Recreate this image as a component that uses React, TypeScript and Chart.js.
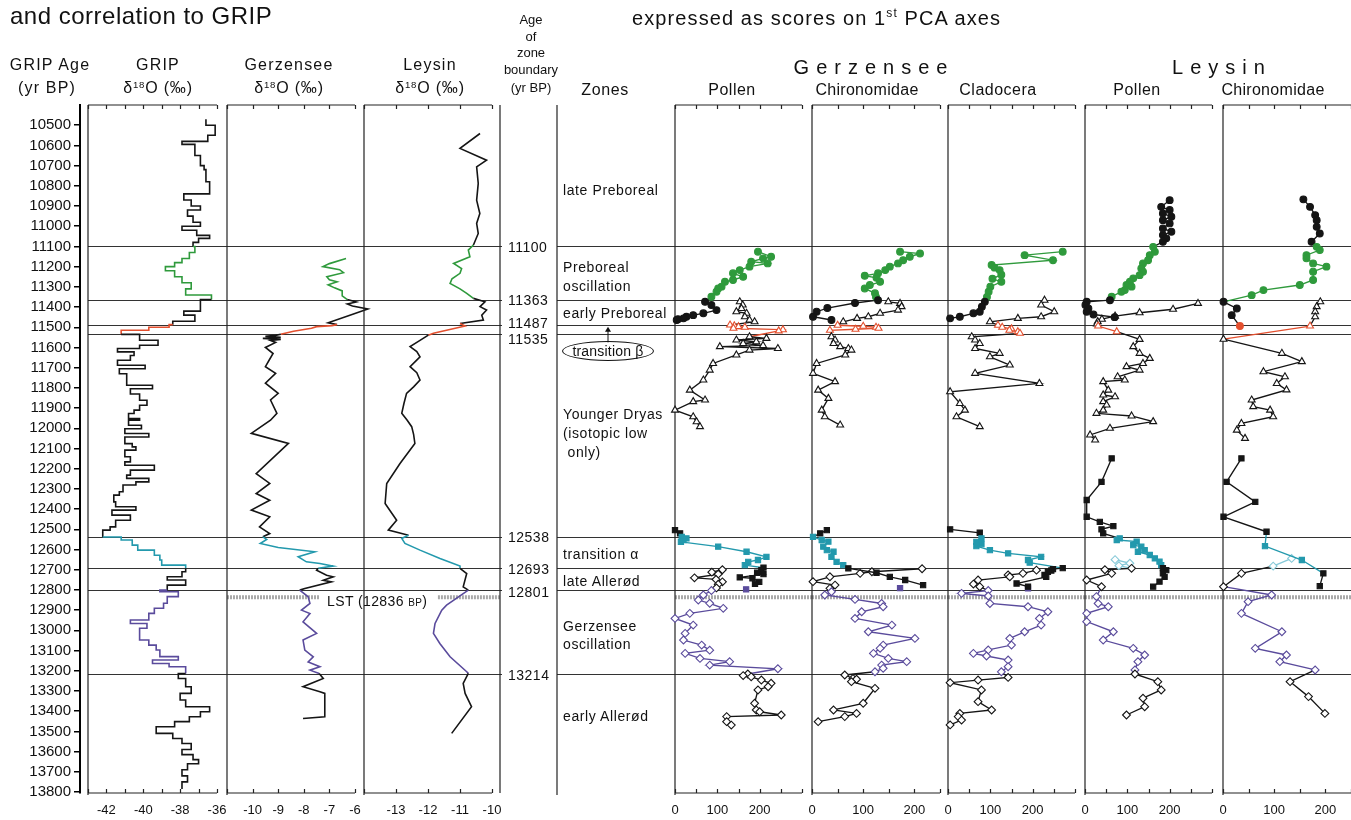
import React, { useEffect, useRef } from "react";
import { Chart, registerables } from "chart.js";
Chart.register(...registerables);

const FONT = '"Liberation Sans", Arial, Helvetica, sans-serif';
const BLACK = "#151515";
const GREEN = "#2f9a3c";
const RED = "#e4502f";
const TEAL = "#2399ad";
const LIGHTTEAL = "#86c9d8";
const PURPLE = "#5a4b9c";
const LINE = "#333333";
const LST_GRAY = "#a9a9a9";

// ---------------- data ----------------
type Pair = [number, number]; // [age (yr BP), value]

const AGE_MIN = 10400;
const AGE_MAX = 13805;
const gripAgeTicks = [
  10500, 10600, 10700, 10800, 10900, 11000, 11100, 11200, 11300, 11400, 11500, 11600, 11700, 11800, 11900, 12000,
  12100, 12200, 12300, 12400, 12500, 12600, 12700, 12800, 12900, 13000, 13100, 13200, 13300, 13400, 13500, 13600,
  13700, 13800,
];
const ZONE_BOUNDARIES = [11100, 11363, 11487, 11535, 12538, 12693, 12801, 13214];
const LST_AGE = 12836;
const boundaryLabels = ["11100", "11363", "11487", "11535", "12538", "12693", "12801", "13214"];

// GRIP δ18O, stepped: [end age of sample, value]
const gripRecord: Pair[] = [
  [10470, -36.6], [10500, -36.6], [10550, -36.1], [10580, -36.5], [10595, -37.9], [10650, -37.2], [10700, -36.9],
  [10720, -36.7], [10780, -36.6], [10840, -36.4], [10870, -37.8], [10900, -37.4], [10920, -36.9], [10950, -37.6],
  [10980, -37.3], [11000, -36.9], [11020, -37.9], [11045, -37.1], [11060, -36.4], [11080, -37.0], [11100, -37.3],
  [11130, -37.2], [11160, -37.5], [11180, -37.9], [11200, -38.3], [11220, -38.8], [11250, -38.3], [11280, -37.9],
  [11310, -37.4], [11340, -37.7], [11363, -36.3],
  [11420, -36.9], [11440, -37.8], [11470, -37.2], [11487, -38.4],
  [11500, -38.6], [11515, -39.7], [11535, -41.2],
  [11564, -40.2], [11589, -39.2], [11605, -40.2], [11622, -41.4], [11640, -40.5], [11663, -40.7], [11688, -41.4],
  [11705, -39.9], [11730, -41.3], [11787, -40.9], [11804, -39.5], [11830, -40.7], [11861, -40.2], [11886, -39.8],
  [11910, -40.2], [11927, -40.5], [11952, -40.8], [11960, -40.2], [11985, -40.8], [12002, -40.1], [12026, -41.0],
  [12043, -39.7], [12076, -41.0], [12092, -40.6], [12108, -40.4], [12141, -41.0], [12166, -40.7], [12183, -41.0],
  [12207, -39.4], [12232, -40.7], [12248, -40.9], [12265, -39.7], [12281, -40.4], [12314, -41.1], [12331, -41.3],
  [12364, -41.6], [12388, -41.5], [12405, -40.4], [12430, -41.7], [12455, -40.7], [12488, -41.5], [12504, -41.8],
  [12538, -42.2],
  [12553, -41.2], [12578, -40.6], [12603, -40.3], [12628, -39.4], [12652, -39.1], [12677, -39.0], [12693, -37.7],
  [12710, -37.7], [12735, -37.9], [12751, -38.7], [12776, -37.7], [12801, -38.7],
  [12809, -39.1], [12833, -38.1], [12866, -38.7], [12891, -38.9], [12916, -39.4], [12949, -39.7], [12966, -40.7],
  [12990, -39.8], [13048, -40.2], [13073, -39.7], [13097, -39.3], [13130, -39.1], [13147, -38.1], [13164, -39.5],
  [13180, -38.6], [13214, -37.7],
  [13238, -38.1], [13279, -37.7], [13312, -37.4], [13345, -38.0], [13378, -37.7], [13403, -36.4], [13428, -36.9],
  [13452, -37.5], [13477, -38.3], [13510, -39.3], [13535, -38.4], [13560, -37.9], [13590, -37.4], [13615, -37.9],
  [13640, -37.3], [13660, -37.0], [13690, -37.6], [13720, -37.9], [13750, -37.6], [13785, -37.9],
];

// Gerzensee δ18O
const gerzIso: Pair[] = [
  [11160, -6.35], [11185, -7.0], [11200, -7.25], [11215, -6.6], [11230, -6.45], [11250, -7.1], [11265, -7.0],
  [11275, -6.7], [11290, -7.05], [11305, -6.8], [11320, -6.5], [11345, -6.5], [11363, -6.3],
  [11375, -5.95], [11385, -6.3], [11395, -6.1], [11410, -5.5], [11440, -6.2], [11478, -7.05], [11487, -6.7],
  [11492, -6.9], [11497, -7.5], [11505, -7.7], [11520, -8.4], [11535, -8.9],
  [11540, -9.1], [11545, -9.5], [11550, -8.9], [11555, -9.6], [11560, -8.9], [11565, -9.3], [11575, -9.1],
  [11600, -9.5], [11630, -9.2], [11662, -9.35], [11695, -9.5], [11728, -9.1], [11777, -9.5], [11827, -9.0],
  [11860, -9.3], [11926, -9.05], [11960, -9.3], [12025, -10.05], [12075, -8.6], [12224, -9.86], [12273, -9.33],
  [12323, -9.86], [12356, -9.33], [12405, -10.05], [12438, -9.33], [12488, -9.73], [12521, -9.33], [12537, -9.6],
  [12550, -9.45], [12570, -9.7], [12590, -9.0], [12611, -7.57], [12636, -8.22], [12661, -7.9], [12669, -7.37],
  [12682, -6.85], [12693, -7.44],
  [12702, -7.5], [12727, -7.11], [12735, -6.85], [12752, -7.24], [12760, -6.92], [12793, -7.96], [12801, -8.16],
  [12834, -7.83], [12867, -7.76], [12900, -8.09], [12917, -7.76], [12958, -8.03], [13015, -7.5], [13048, -8.03],
  [13098, -7.96], [13131, -7.63], [13156, -7.83], [13180, -7.37], [13197, -7.76], [13214, -7.4],
  [13238, -7.24], [13279, -8.03], [13304, -7.37], [13312, -7.18], [13428, -7.18], [13436, -8.03],
];

// Leysin δ18O
const leysIso: Pair[] = [
  [10541, -10.375], [10615, -11.0], [10673, -10.17], [10706, -10.48], [10788, -10.43], [10871, -10.48],
  [10937, -10.38], [10986, -10.48], [11036, -10.43], [11093, -10.58],
  [11118, -10.74], [11151, -10.69], [11184, -11.2], [11210, -10.95], [11233, -11.0], [11260, -11.25],
  [11283, -11.31], [11310, -11.0], [11332, -10.79], [11357, -10.58],
  [11374, -10.22], [11398, -10.375], [11415, -10.17], [11440, -10.32], [11464, -10.27], [11481, -11.0],
  [11494, -10.84], [11530, -11.83],
  [11539, -11.99], [11570, -12.3], [11596, -12.56], [11620, -12.35], [11646, -12.25], [11670, -12.4],
  [11695, -12.56], [11725, -12.35], [11761, -12.25], [11795, -12.45], [11827, -12.67], [11876, -12.75],
  [11926, -12.82], [11960, -12.65], [11992, -12.51], [12030, -12.45], [12075, -12.41], [12174, -12.875],
  [12273, -13.29], [12372, -13.34], [12455, -12.98], [12504, -13.24], [12529, -12.61],
  [12545, -12.82], [12570, -12.72], [12603, -12.25], [12644, -11.625], [12682, -11.0],
  [12693, -11.0], [12719, -10.79], [12785, -10.9], [12801, -10.74],
  [12875, -11.42], [12900, -11.57], [12966, -11.78], [13015, -11.83], [13065, -11.63], [13131, -11.31],
  [13205, -10.79],
  [13213, -10.74], [13263, -10.9], [13312, -10.84], [13378, -10.64], [13510, -11.26],
];

// PCA axis-1 scores: Gerzensee pollen
const gzPollenCircles: Pair[] = [
  [11126, 196], [11151, 227], [11159, 208], [11176, 180], [11184, 219], [11200, 176], [11217, 153], [11233, 137],
  [11250, 161], [11266, 137], [11275, 118], [11299, 110], [11308, 102], [11324, 98], [11349, 86],
  [11374, 71], [11390, 86], [11415, 98], [11431, 67], [11440, 43], [11448, 27], [11456, 20], [11460, 7], [11464, 4],
];
const gzPollenTriangles: Pair[] = [
  [11374, 153], [11390, 160], [11407, 157], [11423, 145], [11431, 169], [11448, 165], [11464, 176], [11473, 188],
  [11489, 130], [11493, 140], [11497, 150], [11500, 165], [11505, 138], [11512, 255], [11518, 245],
  [11547, 176], [11555, 216], [11563, 145], [11572, 192], [11580, 161], [11590, 208], [11596, 106], [11605, 243],
  [11613, 176], [11637, 145], [11679, 90], [11712, 82], [11761, 67], [11811, 35], [11860, 71], [11868, 43],
  [11910, 0], [11943, 43], [11968, 51], [11992, 59],
];
const gzPollenSquares: Pair[] = [
  [12504, 0], [12520, 12], [12537, 16], [12545, 27], [12553, 20], [12562, 14], [12586, 102], [12611, 169],
  [12636, 216], [12652, 196], [12661, 173], [12677, 165],
  [12690, 209], [12702, 204], [12715, 194], [12722, 209], [12738, 153], [12742, 183], [12760, 199], [12770, 189],
];
const gzPollenPurpleSq: Pair[] = [[12797, 168]];
const gzPollenDiamonds: Pair[] = [
  [12700, 112], [12712, 87], [12722, 102], [12740, 46], [12748, 97], [12760, 112], [12772, 102], [12790, 98],
  [12803, 86], [12825, 67], [12850, 55], [12866, 82], [12891, 114], [12916, 35], [12941, 0], [12974, 43],
  [13015, 24], [13048, 20], [13073, 63], [13098, 82], [13114, 24], [13139, 59], [13155, 129], [13172, 82],
  [13190, 243],
  [13216, 172], [13224, 161], [13230, 180], [13246, 204], [13262, 227], [13279, 220], [13295, 196], [13361, 188],
  [13394, 192], [13403, 200], [13419, 251], [13427, 122], [13452, 122], [13469, 133],
];

// Gerzensee chironomids
const gzChiroCircles: Pair[] = [
  [11126, 172], [11135, 211], [11151, 191], [11168, 178], [11184, 168], [11200, 152], [11217, 143], [11233, 129],
  [11245, 103], [11255, 126], [11275, 133], [11291, 113], [11308, 103], [11332, 123], [11350, 125],
  [11366, 129], [11380, 84], [11405, 30], [11423, 9], [11448, 2], [11464, 38],
];
const gzChiroTriangles: Pair[] = [
  [11374, 149], [11382, 172], [11398, 175], [11415, 168], [11431, 133], [11448, 110], [11456, 88], [11473, 61],
  [11490, 50], [11495, 100], [11500, 125], [11505, 130], [11510, 85], [11515, 35],
  [11547, 38], [11563, 45], [11580, 42], [11596, 55], [11605, 71], [11613, 77], [11637, 65], [11679, 9],
  [11728, 2], [11769, 45], [11811, 12], [11852, 32], [11910, 19], [11943, 25], [11984, 55],
];
const gzChiroSquares: Pair[] = [
  [12504, 29], [12520, 16], [12537, 2], [12553, 19], [12561, 32], [12586, 22], [12603, 29], [12611, 42],
  [12636, 38], [12661, 48], [12677, 61],
  [12693, 71], [12715, 126], [12735, 152], [12751, 182], [12776, 217],
];
const gzChiroPurpleSq: Pair[] = [[12791, 172]];
const gzChiroDiamonds: Pair[] = [
  [12695, 215], [12710, 117], [12718, 94], [12735, 35], [12759, 2], [12776, 45], [12792, 35],
  [12809, 38], [12825, 25], [12847, 84], [12867, 136], [12883, 139], [12908, 97], [12941, 84], [12974, 156],
  [13007, 110], [13040, 201], [13073, 139], [13089, 133], [13114, 120], [13139, 149], [13155, 185],
  [13172, 136], [13188, 139], [13205, 123],
  [13221, 64], [13238, 80], [13242, 87], [13254, 77], [13287, 123], [13361, 100], [13394, 42], [13411, 87],
  [13427, 64], [13452, 12],
];

// Gerzensee cladocera
const gzCladoCircles: Pair[] = [
  [11126, 271], [11143, 181], [11168, 248], [11192, 103], [11205, 110], [11217, 122], [11240, 126], [11260, 105],
  [11275, 126], [11299, 100], [11324, 96], [11350, 92],
  [11374, 87], [11398, 80], [11423, 75], [11431, 60], [11448, 28], [11456, 5],
];
const gzCladoTriangles: Pair[] = [
  [11366, 228], [11390, 220], [11423, 251], [11448, 220], [11456, 165], [11473, 99],
  [11490, 118], [11500, 128], [11508, 150], [11515, 145], [11522, 165], [11530, 170],
  [11547, 56], [11563, 64], [11580, 75], [11605, 64], [11629, 122], [11646, 99], [11687, 146], [11728, 64],
  [11778, 216], [11819, 5], [11877, 28], [11910, 40], [11943, 20], [11992, 75],
];
const gzCladoSquares: Pair[] = [
  [12500, 5], [12517, 75], [12545, 79], [12562, 67], [12573, 79], [12583, 67], [12603, 99], [12619, 142],
  [12636, 220], [12652, 189], [12665, 193],
  [12692, 271], [12697, 248], [12704, 244], [12710, 236], [12726, 228], [12735, 232], [12768, 162], [12784, 189],
];
const gzCladoPurpleSq: Pair[] = [[12792, 189]];
const gzCladoDiamonds: Pair[] = [
  [12702, 209], [12718, 177], [12726, 142], [12735, 146], [12751, 71], [12771, 60], [12784, 75],
  [12803, 95], [12817, 32], [12830, 95], [12867, 99], [12883, 189], [12908, 236], [12941, 216], [12974, 220],
  [13007, 181], [13040, 146], [13073, 150], [13097, 95], [13114, 60], [13127, 91], [13147, 142], [13180, 142],
  [13205, 126],
  [13233, 142], [13246, 71], [13259, 5], [13295, 79], [13353, 71], [13394, 103], [13411, 28], [13427, 24],
  [13444, 32], [13468, 5],
];

// Leysin pollen
const lyPollenCircles: Pair[] = [
  [10871, 200], [10904, 180], [10920, 200], [10937, 184], [10953, 204], [10970, 184], [10986, 200], [11011, 184],
  [11027, 204], [11044, 184], [11060, 192], [11077, 184],
  [11102, 161], [11126, 165], [11143, 153], [11168, 149], [11184, 137], [11209, 133], [11225, 137], [11242, 129],
  [11258, 114], [11275, 106], [11291, 98], [11299, 110], [11316, 94], [11324, 86], [11349, 63],
  [11366, 59], [11374, 4], [11390, 1], [11407, 8], [11423, 4], [11437, 20], [11450, 70],
];
const lyPollenTriangles: Pair[] = [
  [11382, 267], [11411, 208], [11428, 129], [11445, 71], [11460, 40], [11472, 30], [11484, 28],
  [11494, 31], [11522, 75],
  [11560, 129], [11596, 114], [11629, 129], [11654, 153], [11679, 137], [11695, 98], [11712, 129], [11745, 77],
  [11761, 94], [11769, 43], [11811, 55], [11835, 43], [11844, 71], [11868, 43], [11885, 51], [11910, 43],
  [11926, 27], [11939, 110], [11967, 161], [12000, 59], [12033, 12], [12058, 24],
];
const lyPollenSquares: Pair[] = [
  [12149, 63], [12265, 39], [12355, 4], [12438, 4], [12463, 35], [12484, 67], [12500, 39], [12520, 43],
  [12545, 82], [12553, 75], [12561, 122], [12578, 114], [12586, 133], [12603, 141], [12611, 125], [12627, 153],
  [12644, 165], [12660, 176], [12677, 180],
  [12692, 184], [12702, 192], [12718, 184], [12735, 188], [12759, 176], [12784, 161],
];
const lyPollenDiamonds: Pair[] = [
  [12650, 71], [12668, 106], [12680, 80],
  [12693, 110], [12700, 47], [12718, 63], [12751, 4], [12784, 39],
  [12833, 27], [12867, 31], [12883, 55], [12916, 4], [12957, 4], [13007, 67], [13048, 43], [13089, 114],
  [13122, 141], [13155, 125], [13196, 118],
  [13216, 118], [13254, 172], [13295, 180], [13336, 137], [13378, 141], [13419, 98],
];

// Leysin chironomids
const lyChiroCircles: Pair[] = [
  [10867, 157], [10904, 170], [10945, 180], [10970, 183], [11003, 183], [11036, 189], [11077, 173],
  [11102, 183], [11118, 189], [11143, 163], [11159, 163], [11184, 176], [11200, 202], [11225, 176], [11266, 176],
  [11291, 150], [11316, 79], [11341, 56],
  [11374, 1], [11407, 27], [11440, 17], [11494, 33],
];
const lyChiroTriangles: Pair[] = [
  [11374, 190], [11398, 183], [11423, 180], [11448, 180], [11494, 170],
  [11559, 1], [11629, 115], [11670, 154], [11720, 79], [11745, 121], [11778, 105], [11810, 124], [11860, 56],
  [11893, 59], [11910, 92], [11943, 98], [11976, 36], [12009, 27], [12050, 43],
];
const lyChiroSquares: Pair[] = [
  [12149, 36], [12265, 7], [12364, 63], [12438, 1], [12512, 85], [12583, 82], [12652, 154], [12718, 196],
  [12781, 189],
];
const lyChiroDiamonds: Pair[] = [
  [12644, 134], [12682, 98], [12718, 36], [12784, 1],
  [12825, 95], [12858, 49], [12916, 36], [13007, 115], [13089, 63], [13122, 124], [13155, 111], [13196, 180],
  [13254, 131], [13328, 167], [13411, 199],
];

// ---------------- helpers ----------------
function zoneColor(age: number): string {
  if (age >= 11100 && age < 11362) return GREEN;
  if (age > 11487 && age <= 11535) return RED;
  if (age >= 12536 && age < 12690) return TEAL;
  if (age >= 12798 && age < 13212) return PURPLE;
  return BLACK;
}

type Kind = "circle" | "triangle" | "square" | "diamond" | "line" | "step";

function series(pairs: Pair[], kind: Kind, fixed?: string) {
  const open = kind === "triangle" || kind === "diamond";
  const styles: Record<Kind, string> = {
    circle: "circle", triangle: "triangle", square: "rect", diamond: "rectRot", line: "circle", step: "circle",
  };
  const radii: Record<Kind, number> = { circle: 3.4, triangle: 4, square: 3.7, diamond: 3.9, line: 0, step: 0 };
  const col = (age: number) => {
    if (fixed) return fixed;
    const c = zoneColor(age);
    return kind === "diamond" && c === TEAL ? LIGHTTEAL : c;
  };
  return {
    data: pairs.map(([a, v]) => ({ x: v, y: a })),
    showLine: true,
    stepped: kind === "step" ? "before" : false,
    borderWidth: kind === "line" || kind === "step" ? 1.6 : 1.35,
    borderColor: BLACK,
    segment: { borderColor: (s: any) => col((s.p0.parsed.y + s.p1.parsed.y) / 2) },
    pointStyle: styles[kind],
    pointRadius: radii[kind],
    pointBorderWidth: 1.1,
    pointBackgroundColor: (c: any) => (open ? "#ffffff" : col(c && c.raw ? c.raw.y : 0)),
    pointBorderColor: (c: any) => col(c && c.raw ? c.raw.y : 0),
    clip: false,
  };
}

const PADL = 22;
const PADR = 22;
const TOP = 105;
const CH = 820;

const decorPlugin = {
  id: "decor",
  beforeDatasetsDraw(chart: any, _args: any, o: any) {
    if (!o || !o.on) return;
    const { ctx, chartArea: a, scales } = chart;
    const x = scales.x;
    const y = scales.y;
    ctx.save();
    // LST ash layer
    if (o.lst) {
      const yy = y.getPixelForValue(LST_AGE);
      const x0 = o.lst.from != null ? x.getPixelForValue(o.lst.from) : a.left;
      const x1 = o.lst.to != null ? x.getPixelForValue(o.lst.to) : a.right + o.ext;
      ctx.strokeStyle = LST_GRAY;
      ctx.lineWidth = 4;
      ctx.setLineDash([2, 1]);
      ctx.beginPath();
      ctx.moveTo(x0, yy);
      ctx.lineTo(x1, yy);
      ctx.stroke();
      ctx.setLineDash([]);
    }
    // zone boundaries
    ctx.strokeStyle = LINE;
    ctx.lineWidth = 1.15;
    for (const b of ZONE_BOUNDARIES) {
      const yy = Math.round(y.getPixelForValue(b)) + 0.5;
      ctx.beginPath();
      ctx.moveTo(a.left, yy);
      ctx.lineTo(a.right + o.ext, yy);
      ctx.stroke();
    }
    // frames
    ctx.strokeStyle = "#222";
    ctx.lineWidth = 1.2;
    ctx.beginPath();
    ctx.moveTo(a.left, a.top);
    ctx.lineTo(a.left, a.bottom + 2);
    if (o.rightFrame) {
      ctx.moveTo(a.right, a.top);
      ctx.lineTo(a.right, a.bottom);
    }
    ctx.stroke();
    // top / bottom axes with inward ticks
    if (o.axisEnd != null) {
      const xe = x.getPixelForValue(o.axisEnd);
      ctx.beginPath();
      ctx.moveTo(a.left, a.top);
      ctx.lineTo(xe, a.top);
      ctx.moveTo(a.left, a.bottom);
      ctx.lineTo(xe, a.bottom);
      for (const t of x.ticks) {
        if (t.value > o.axisEnd + 1e-9) continue;
        const px = Math.round(x.getPixelForValue(t.value)) + 0.5;
        ctx.moveTo(px, a.top);
        ctx.lineTo(px, a.top + 4);
        ctx.moveTo(px, a.bottom);
        ctx.lineTo(px, a.bottom - 4);
      }
      ctx.stroke();
    }
    // arrow (transition beta)
    if (o.arrow) {
      const ax = a.left + o.arrow.dx;
      const y0 = y.getPixelForValue(o.arrow.fromAge);
      const y1 = y.getPixelForValue(o.arrow.toAge);
      ctx.strokeStyle = "#111";
      ctx.fillStyle = "#111";
      ctx.lineWidth = 1;
      ctx.beginPath();
      ctx.moveTo(ax, y0);
      ctx.lineTo(ax, y1 + 3);
      ctx.stroke();
      ctx.beginPath();
      ctx.moveTo(ax, y1);
      ctx.lineTo(ax - 3, y1 + 5);
      ctx.lineTo(ax + 3, y1 + 5);
      ctx.closePath();
      ctx.fill();
    }
    ctx.restore();
  },
};

type Spec = {
  key: string;
  left: number;
  right: number;
  xMin: number;
  xMax: number;
  tickStep: number;
  labelStep: number;
  labelMin: number;
  labelMax: number;
  showX: boolean;
  decor: any;
  datasets: any[];
};

function labelCb(spec: Spec) {
  return (v: any) => {
    const n = Number(v);
    const r = Math.abs(n / spec.labelStep - Math.round(n / spec.labelStep));
    return r < 1e-6 && n >= spec.labelMin - 1e-9 && n <= spec.labelMax + 1e-9 ? String(Math.round(n)) : "";
  };
}

function buildConfig(spec: Spec): any {
  return {
    type: "scatter",
    data: { datasets: spec.datasets },
    options: {
      animation: false,
      responsive: false,
      maintainAspectRatio: false,
      events: [],
      layout: { padding: { left: PADL, right: PADR, top: TOP, bottom: 3 } },
      plugins: { legend: { display: false }, tooltip: { enabled: false }, decor: spec.decor },
      scales: {
        x: {
          type: "linear",
          min: spec.xMin,
          max: spec.xMax,
          display: true,
          position: "bottom",
          grid: { display: false },
          border: { display: false },
          afterFit: (s: any) => {
            s.height = 24;
          },
          ticks: {
            display: spec.showX,
            stepSize: spec.tickStep,
            includeBounds: false,
            autoSkip: false,
            maxRotation: 0,
            minRotation: 0,
            padding: 2,
            color: "#111",
            font: { family: FONT, size: 13 },
            callback: labelCb(spec),
          },
        },
        y: { type: "linear", min: AGE_MIN, max: AGE_MAX, reverse: true, display: false },
      },
    },
    plugins: [decorPlugin],
  };
}

const specs: Spec[] = [
  {
    key: "grip", left: 88, right: 217, xMin: -43, xMax: -36, tickStep: 1, labelStep: 2, labelMin: -42, labelMax: -36,
    showX: true, decor: { on: true, ext: 11, axisEnd: -36 }, datasets: [series(gripRecord, "step")],
  },
  {
    key: "gerz", left: 227, right: 355, xMin: -11, xMax: -6, tickStep: 1, labelStep: 1, labelMin: -10, labelMax: -6,
    showX: true, decor: { on: true, ext: 9, axisEnd: -6, lst: { from: -11, to: -7.37 } },
    datasets: [series(gerzIso, "line")],
  },
  {
    key: "leys", left: 364, right: 500, xMin: -14, xMax: -9.75, tickStep: 1, labelStep: 1, labelMin: -13, labelMax: -10,
    showX: true, decor: { on: true, ext: 2, axisEnd: -10, rightFrame: true, lst: { from: -11.69, to: -9.75 } },
    datasets: [series(leysIso, "line")],
  },
  {
    key: "zones", left: 557, right: 675, xMin: 0, xMax: 1, tickStep: 1, labelStep: 1, labelMin: 5, labelMax: 0,
    showX: false, decor: { on: true, ext: 0, arrow: { dx: 51, fromAge: 11575, toAge: 11497 } }, datasets: [],
  },
  {
    key: "gzPollen", left: 675, right: 802, xMin: 0, xMax: 300, tickStep: 50, labelStep: 100, labelMin: 0, labelMax: 200,
    showX: true, decor: { on: true, ext: 10, axisEnd: 300, lst: {} },
    datasets: [
      series(gzPollenCircles, "circle"), series(gzPollenTriangles, "triangle"), series(gzPollenSquares, "square"),
      series(gzPollenDiamonds, "diamond"), series(gzPollenPurpleSq, "square", PURPLE),
    ],
  },
  {
    key: "gzChiro", left: 812, right: 940, xMin: 0, xMax: 250, tickStep: 50, labelStep: 100, labelMin: 0, labelMax: 200,
    showX: true, decor: { on: true, ext: 8, axisEnd: 250, lst: {} },
    datasets: [
      series(gzChiroCircles, "circle"), series(gzChiroTriangles, "triangle"), series(gzChiroSquares, "square"),
      series(gzChiroDiamonds, "diamond"), series(gzChiroPurpleSq, "square", PURPLE),
    ],
  },
  {
    key: "gzClado", left: 948, right: 1075, xMin: 0, xMax: 300, tickStep: 50, labelStep: 100, labelMin: 0, labelMax: 200,
    showX: true, decor: { on: true, ext: 10, axisEnd: 300, lst: {} },
    datasets: [
      series(gzCladoCircles, "circle"), series(gzCladoTriangles, "triangle"), series(gzCladoSquares, "square"),
      series(gzCladoDiamonds, "diamond"), series(gzCladoPurpleSq, "square", PURPLE),
    ],
  },
  {
    key: "lyPollen", left: 1085, right: 1212, xMin: 0, xMax: 300, tickStep: 50, labelStep: 100, labelMin: 0, labelMax: 200,
    showX: true, decor: { on: true, ext: 11, axisEnd: 300, lst: {} },
    datasets: [
      series(lyPollenCircles, "circle"), series(lyPollenTriangles, "triangle"), series(lyPollenSquares, "square"),
      series(lyPollenDiamonds, "diamond"),
    ],
  },
  {
    key: "lyChiro", left: 1223, right: 1351, xMin: 0, xMax: 250, tickStep: 50, labelStep: 100, labelMin: 0, labelMax: 200,
    showX: true, decor: { on: true, ext: 0, axisEnd: 250, lst: {} },
    datasets: [
      series(lyChiroCircles, "circle"), series(lyChiroTriangles, "triangle"), series(lyChiroSquares, "square"),
      series(lyChiroDiamonds, "diamond"),
    ],
  },
];

function Panel({ spec }: { spec: Spec }) {
  const ref = useRef<HTMLCanvasElement>(null);
  useEffect(() => {
    const chart = new Chart(ref.current as HTMLCanvasElement, buildConfig(spec));
    return () => chart.destroy();
  }, []);
  const w = spec.right - spec.left + PADL + PADR;
  return (
    <canvas
      ref={ref}
      width={w}
      height={CH}
      style={{ position: "absolute", left: spec.left - PADL, top: 0, width: w, height: CH }}
    />
  );
}

function AgeAxis() {
  const ref = useRef<HTMLCanvasElement>(null);
  useEffect(() => {
    const chart = new Chart(ref.current as HTMLCanvasElement, {
      type: "scatter",
      data: { datasets: [] },
      options: {
        animation: false,
        responsive: false,
        maintainAspectRatio: false,
        events: [],
        layout: { padding: { left: 0, right: 0, top: TOP, bottom: 27 } },
        plugins: { legend: { display: false }, tooltip: { enabled: false } },
        scales: {
          x: { type: "linear", min: 0, max: 1, display: false },
          y: {
            type: "linear",
            min: AGE_MIN,
            max: AGE_MAX,
            reverse: true,
            position: "left",
            afterFit: (s: any) => {
              s.width = 80;
            },
            afterBuildTicks: (s: any) => {
              s.ticks = gripAgeTicks.map((v) => ({ value: v }));
            },
            grid: { display: true, drawOnChartArea: false, drawTicks: true, tickLength: 6, color: "#000", lineWidth: 1.5 },
            border: { display: true, color: "#000", width: 2 },
            ticks: {
              autoSkip: false,
              padding: 3,
              color: "#111",
              font: { family: FONT, size: 15 },
              callback: (v: any) => String(v),
            },
          },
        },
      } as any,
    });
    return () => chart.destroy();
  }, []);
  return <canvas ref={ref} width={86} height={CH} style={{ position: "absolute", left: 0, top: 0, width: 86, height: CH }} />;
}

type TP = {
  x: number;
  y: number;
  size?: number;
  anchor?: "start" | "middle" | "end";
  ls?: number;
  children: React.ReactNode;
};
function T({ x, y, size = 15, anchor = "middle", ls = 0, children }: TP) {
  const tx = anchor === "middle" ? "-50%" : anchor === "end" ? "-100%" : "0";
  return (
    <div
      style={{
        position: "absolute",
        left: x,
        top: y,
        transform: `translate(${tx}, -50%)`,
        fontSize: size,
        fontFamily: FONT,
        letterSpacing: ls,
        whiteSpace: "pre",
        color: "#111",
        lineHeight: 1,
      }}
    >
      {children}
    </div>
  );
}

const delta = (
  <span>
    δ<sup style={{ fontSize: "0.6em", verticalAlign: "0.55em", lineHeight: 0 }}>18</sup>O (‰)
  </span>
);

const boundaryLabelY = [247, 300, 323, 339, 537, 569, 592, 675];

export default function App() {
  return (
    <div
      style={{
        position: "fixed",
        left: 0,
        top: 0,
        width: 1351,
        height: 820,
        overflow: "hidden",
        background: "#fff",
      }}
    >
      <AgeAxis />
      {specs.map((s) => (
        <Panel key={s.key} spec={s} />
      ))}

      <T x={10} y={16} size={24} anchor="start" ls={0.5}>and correlation to GRIP</T>
      <T x={632} y={18} size={20} anchor="start" ls={1.1}>
        <span>
          expressed as scores on 1<sup style={{ fontSize: "0.6em", verticalAlign: "0.7em", lineHeight: 0 }}>st</sup> PCA axes
        </span>
      </T>

      <T x={50} y={65} size={16} ls={1.2}>GRIP Age</T>
      <T x={47} y={88} size={16} ls={1.2}>(yr BP)</T>
      <T x={158} y={65} size={16} ls={1.2}>GRIP</T>
      <T x={158} y={88} size={16} ls={0.8}>{delta}</T>
      <T x={289} y={65} size={16} ls={1.2}>Gerzensee</T>
      <T x={289} y={88} size={16} ls={0.8}>{delta}</T>
      <T x={430} y={65} size={16} ls={1.2}>Leysin</T>
      <T x={430} y={88} size={16} ls={0.8}>{delta}</T>

      <T x={531} y={19} size={13}>Age</T>
      <T x={531} y={36} size={13}>of</T>
      <T x={531} y={52} size={13}>zone</T>
      <T x={531} y={69} size={13}>boundary</T>
      <T x={531} y={87} size={13}>(yr BP)</T>

      <T x={605} y={90} size={16} ls={0.6}>Zones</T>
      <T x={874} y={67} size={20} ls={7}>Gerzensee</T>
      <T x={1222} y={67} size={20} ls={7}>Leysin</T>
      <T x={732} y={90} size={16} ls={0.5}>Pollen</T>
      <T x={867} y={90} size={16} ls={0.3}>Chironomidae</T>
      <T x={998} y={90} size={16} ls={0.5}>Cladocera</T>
      <T x={1137} y={90} size={16} ls={0.5}>Pollen</T>
      <T x={1273} y={90} size={16} ls={0.3}>Chironomidae</T>

      {boundaryLabels.map((b, i) => (
        <T key={b} x={508} y={boundaryLabelY[i]} size={14} anchor="start" ls={0.5}>{b}</T>
      ))}

      <T x={563} y={190} size={14} anchor="start" ls={0.6}>late Preboreal</T>
      <T x={563} y={267} size={14} anchor="start" ls={0.6}>Preboreal</T>
      <T x={563} y={286} size={14} anchor="start" ls={0.6}>oscillation</T>
      <T x={563} y={313} size={14} anchor="start" ls={0.6}>early Preboreal</T>
      <div
        style={{
          position: "absolute",
          left: 562,
          top: 341,
          width: 92,
          height: 20,
          border: "1px solid #111",
          borderRadius: "50%",
          boxSizing: "border-box",
        }}
      />
      <T x={608} y={351} size={14} ls={0.2}>transition β</T>
      <T x={563} y={414} size={14} anchor="start" ls={0.6}>Younger Dryas</T>
      <T x={563} y={433} size={14} anchor="start" ls={0.6}>(isotopic low</T>
      <T x={563} y={452} size={14} anchor="start" ls={0.6}> only)</T>
      <T x={563} y={554} size={14} anchor="start" ls={0.6}>transition α</T>
      <T x={563} y={581} size={14} anchor="start" ls={0.6}>late Allerød</T>
      <T x={563} y={626} size={14} anchor="start" ls={0.6}>Gerzensee</T>
      <T x={563} y={644} size={14} anchor="start" ls={0.6}>oscillation</T>
      <T x={563} y={716} size={14} anchor="start" ls={0.6}>early Allerød</T>

      <T x={327} y={601} size={14} anchor="start" ls={0.4}>
        <span>
          LST (12836 <span style={{ fontSize: 10 }}>BP</span>)
        </span>
      </T>
    </div>
  );
}
